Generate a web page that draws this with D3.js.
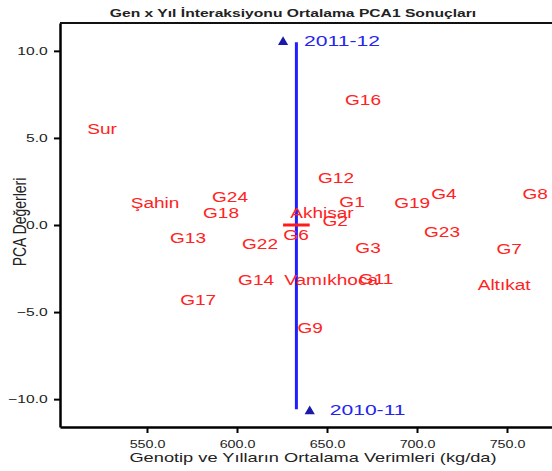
<!DOCTYPE html>
<html>
<head>
<meta charset="utf-8">
<script src="https://cdn.jsdelivr.net/npm/d3@7"></script>
<style>
  body { margin: 0; background: #fff; }
  text { font-family: "Liberation Sans", Arial, sans-serif; }
</style>
</head>
<body>
<div id="chart"></div>
<script>
// Data
// ============================================================================
const genotypes = ["Sur", "Şahin", "G13", "G17", "G24", "G18", "G22", "G14", "G6", "Akhisar",
    "G2", "G1", "G12", "G16", "Vamıkhoca", "G11", "G3", "G9", "G19", "G4", "G8", "G23", "G7", "Altıkat"];
const genoYield = [525.0, 554.5, 572.8, 578.4, 596.1, 591.1, 612.8, 610.6, 632.8, 647.2,
    654.5, 663.9, 655.0, 670.0, 652.3, 677.3, 672.8, 640.6, 697.3, 715.0, 765.6, 713.9, 751.2, 748.4];
const genoPCA = [5.5, 1.25, -0.76, -4.33, 1.6, 0.68, -1.1, -3.17, -0.59, 0.68,
    0.22, 1.3, 2.7, 7.17, -3.17, -3.1, -1.33, -5.93, 1.25, 1.8, 1.8, -0.42, -1.4, -3.46];

const years = ["2011-12", "2010-11"];
const yearYield = [625.6, 640.4];
const yearPCA = [10.5, -10.7];

const xTicks = [550, 600, 650, 700, 750];
const yTicks = [10, 5, 0, -5, -10];

// Layout
// ============================================================================
const W = 552, H = 471,
    margin = {top: 23, right: 0, bottom: 44, left: 60},
    sx = 1.36;   // the reference is stretched horizontally

const svg = d3.select("#chart").append("svg")
    .attr("width", W)
    .attr("height", H);

const x = d3.scaleLinear().domain([501.67, 775]).range([margin.left, W - margin.right]);
const y = d3.scaleLinear().domain([-11.6, 11.6]).range([H - margin.bottom, margin.top]);

// Axes
const xAxis = svg.append("g")
    .attr("transform", "translate(0," + (H - margin.bottom) + ")")
    .call(d3.axisBottom(x).tickValues(xTicks).tickFormat(d3.format(".1f"))
        .tickSizeInner(6).tickSizeOuter(0).tickPadding(8));
xAxis.select(".domain").attr("stroke-width", 2.5);
xAxis.selectAll(".tick line").attr("stroke-width", 2);
xAxis.selectAll(".tick text")
    .attr("font-size", 10.5)
    .attr("fill", "#222")
    .attr("transform", "scale(" + sx + ",1)");

const yAxis = svg.append("g")
    .attr("transform", "translate(" + margin.left + ",0)")
    .call(d3.axisLeft(y).tickValues(yTicks).tickFormat(d3.format(".1f"))
        .tickSizeInner(6).tickSizeOuter(0).tickPadding(3));
yAxis.select(".domain").attr("stroke-width", 2.5);
yAxis.selectAll(".tick line").attr("stroke-width", 2);
yAxis.selectAll(".tick text")
    .attr("font-size", 11.5)
    .attr("fill", "#222")
    .attr("transform", "scale(" + sx + ",1)");

// top frame line
svg.append("line")
    .attr("x1", margin.left).attr("x2", W)
    .attr("y1", margin.top).attr("y2", margin.top)
    .attr("stroke", "#111")
    .attr("stroke-width", 2);

// Title and axis labels
svg.append("text")
    .attr("transform", "translate(293,17) scale(" + sx + ",1)")
    .attr("text-anchor", "middle")
    .attr("font-size", 11.5)
    .attr("font-weight", "bold")
    .attr("fill", "#222")
    .text("Gen x Yıl İnteraksiyonu Ortalama PCA1 Sonuçları");

svg.append("text")
    .attr("transform", "translate(313,462) scale(" + sx + ",1)")
    .attr("text-anchor", "middle")
    .attr("font-size", 13.4)
    .attr("fill", "#222")
    .text("Genotip ve Yılların Ortalama Verimleri (kg/da)");

svg.append("text")
    .attr("transform", "translate(26,222) scale(" + sx + ",1) rotate(-90)")
    .attr("text-anchor", "middle")
    .attr("font-size", 14)
    .attr("fill", "#222")
    .text("PCA Değerleri");

// Year vector (vertical line through mean yield) and origin marker
const meanYield = d3.mean(yearYield);

svg.append("line")
    .attr("x1", x(meanYield)).attr("x2", x(meanYield))
    .attr("y1", y(yearPCA[0])).attr("y2", y(yearPCA[1]) - 2)
    .attr("stroke", "#1f1fff")
    .attr("stroke-width", 3);

svg.append("line")
    .attr("x1", x(yearYield[0])).attr("x2", x(yearYield[1]))
    .attr("y1", y(0)).attr("y2", y(0))
    .attr("stroke", "#ff1a1a")
    .attr("stroke-width", 3);

// Year points
svg.selectAll(".year-pt")
    .data(years)
    .enter()
    .append("path")
        .attr("class", "year-pt")
        .attr("d", d3.symbol().type(d3.symbolTriangle).size(45))
        .attr("transform", (d, i) => "translate(" + x(yearYield[i]) + "," + y(yearPCA[i]) + ")")
        .attr("fill", "#1a1aa8");

svg.selectAll(".year-label")
    .data(years)
    .enter()
    .append("text")
        .attr("class", "year-label")
        .attr("transform", (d, i) => "translate(" + (x(yearYield[i]) + (i === 0 ? 21 : 20)) + "," +
            (y(yearPCA[i]) + 4) + ") scale(" + sx + ",1)")
        .attr("font-size", 15.5)
        .attr("fill", "#2424ee")
        .text(d => d);

// Genotype labels
svg.selectAll(".geno-label")
    .data(genotypes)
    .enter()
    .append("text")
        .attr("class", "geno-label")
        .attr("transform", (d, i) => "translate(" + x(genoYield[i]) + "," + y(genoPCA[i]) + ") scale(" + sx + ",1)")
        .attr("text-anchor", "middle")
        .attr("dy", "0.36em")
        .attr("font-size", 14)
        .attr("fill", "#ff2222")
        .text(d => d);
</script>
</body>
</html>
